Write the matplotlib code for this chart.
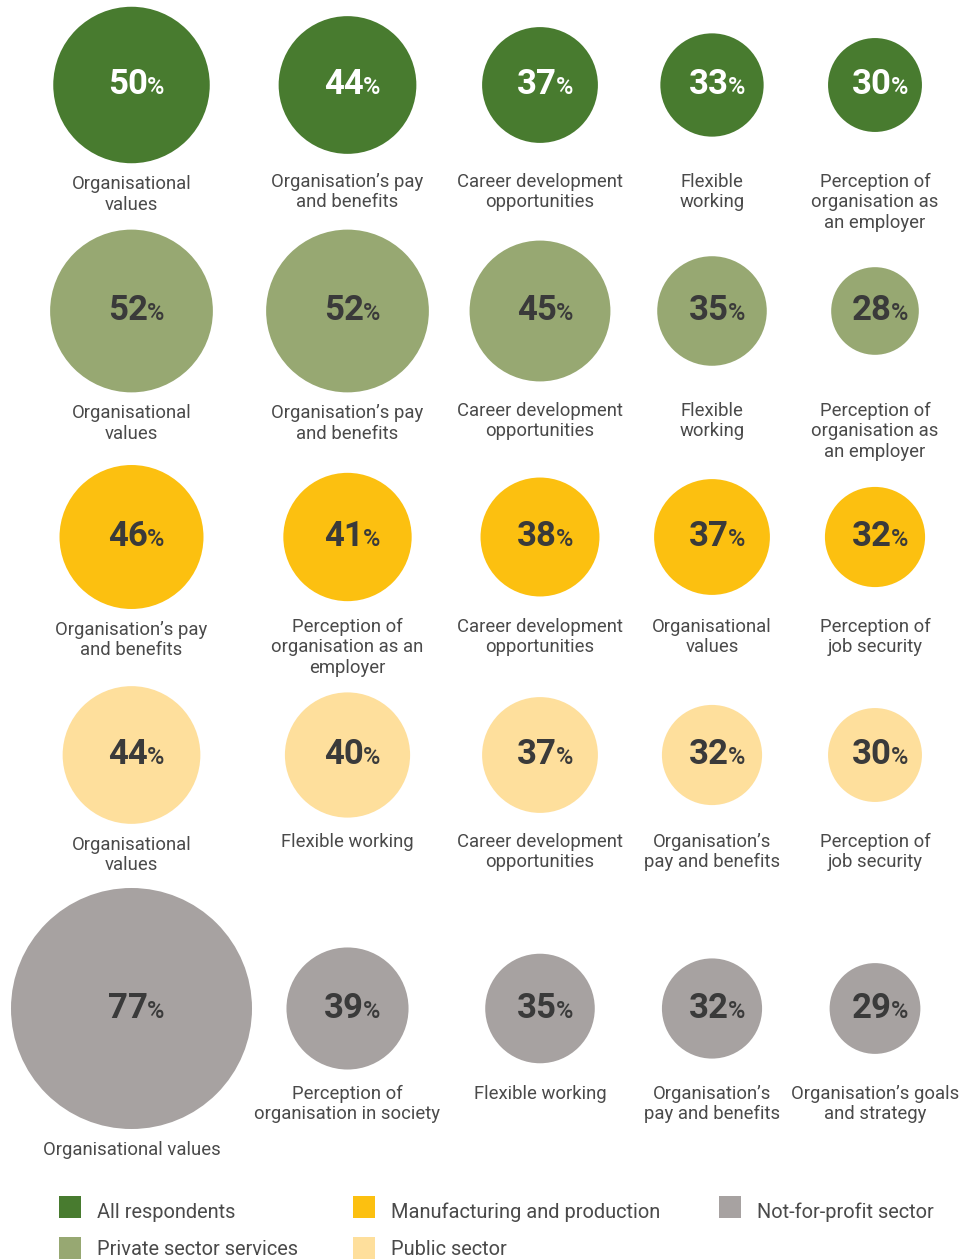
import matplotlib
matplotlib.use("Agg")
import matplotlib.pyplot as plt
from matplotlib.patches import Circle, Rectangle

# ---------------- data ----------------
groups = ["All respondents", "Private sector services", "Manufacturing and production",
          "Public sector", "Not-for-profit sector"]
colors = ["#487b2f", "#97a872", "#fcc010", "#fedf9c", "#a7a2a1"]

all_values = [50, 44, 37, 33, 30]
all_labels = ["Organisational\nvalues", "Organisation’s pay\nand benefits",
              "Career development\nopportunities", "Flexible\nworking",
              "Perception of\norganisation as\nan employer"]

private_values = [52, 52, 45, 35, 28]
private_labels = ["Organisational\nvalues", "Organisation’s pay\nand benefits",
                  "Career development\nopportunities", "Flexible\nworking",
                  "Perception of\norganisation as\nan employer"]

manufacturing_values = [46, 41, 38, 37, 32]
manufacturing_labels = ["Organisation’s pay\nand benefits",
                        "Perception of\norganisation as an\nemployer",
                        "Career development\nopportunities", "Organisational\nvalues",
                        "Perception of\njob security"]

public_values = [44, 40, 37, 32, 30]
public_labels = ["Organisational\nvalues", "Flexible working",
                 "Career development\nopportunities", "Organisation’s\npay and benefits",
                 "Perception of\njob security"]

nfp_values = [77, 39, 35, 32, 29]
nfp_labels = ["Organisational values", "Perception of\norganisation in society",
              "Flexible working", "Organisation’s\npay and benefits",
              "Organisation’s goals\nand strategy"]

rows_values = [all_values, private_values, manufacturing_values, public_values, nfp_values]
rows_labels = [all_labels, private_labels, manufacturing_labels, public_labels, nfp_labels]

# ---------------- layout ----------------
W, H = 962, 1259
col_x = [131.5, 347.5, 540, 712, 875]
row_y = [85, 311, 537, 755, 1008.5]
label_y = [182, 411, 627, 842, 1094]
scale = 1.565          # px radius per percentage point
TEXT = "#4a4a4a"
FONT = ["Roboto", "DejaVu Sans"]

fig = plt.figure(figsize=(W / 100, H / 100), dpi=100)
ax = fig.add_axes([0, 0, 1, 1])
ax.set_xlim(0, W)
ax.set_ylim(H, 0)
ax.axis("off")

num_texts = []
for r, (vals, labs) in enumerate(zip(rows_values, rows_labels)):
    for c, (v, lab) in enumerate(zip(vals, labs)):
        cx, cy = col_x[c], row_y[r]
        rad = v * scale
        ax.add_patch(Circle((cx, cy), rad, facecolor=colors[r], edgecolor="none"))
        tc = "white" if r == 0 else "#3a3a3a"
        t1 = ax.text(cx, cy + 9, f"{v}", ha="left", va="baseline", fontsize=25,
                     fontweight="bold", color=tc, family=FONT)
        t2 = ax.text(cx, cy + 9, "%", ha="left", va="baseline", fontsize=17,
                     fontweight="medium", color=tc, family=FONT)
        num_texts.append((cx, t1, t2))
        ly = max(label_y[r], cy + rad + 21)
        ax.text(cx, ly - 9, lab, ha="center", va="top", fontsize=13.3,
                fontweight="normal", color=TEXT, family=FONT, linespacing=1.17)

# center the number+% block at cx + 5
fig.canvas.draw()
rend = fig.canvas.get_renderer()
for cx, t1, t2 in num_texts:
    w1 = t1.get_window_extent(rend).width
    w2 = t2.get_window_extent(rend).width
    gap = -1
    total = w1 + gap + w2
    left = cx + 5 - total / 2
    t1.set_x(left)
    t2.set_x(left + w1 + gap)

# ---------------- legend ----------------
leg_x = [59, 353, 719]
leg_top = [1196, 1237]
leg_base = [1218, 1255]
order = [(0, 0), (1, 0), (0, 1), (1, 1), (0, 2)]  # (row, col) for each group
for g, (lr, lc) in enumerate(order):
    x0 = leg_x[lc]
    ax.add_patch(Rectangle((x0, leg_top[lr]), 22, 22, facecolor=colors[g], edgecolor="none"))
    ax.text(x0 + 38, leg_base[lr], groups[g], ha="left", va="baseline", fontsize=14.4,
            fontweight="normal", color=TEXT, family=FONT)

fig.savefig("out.png", dpi=100)
